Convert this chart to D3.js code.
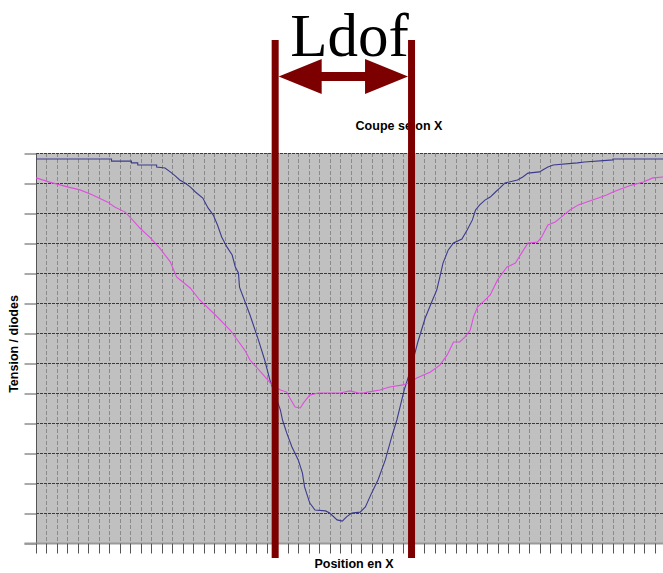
<!DOCTYPE html>
<html>
<head>
<meta charset="utf-8">
<style>
    body { margin: 0; background: #fff; }
    svg { display: block; }
    .lbl { font-family: Arial, 'Liberation Sans', sans-serif; font-weight: bold; font-size: 12.5px; fill: #000; }
    .ldof { font-family: 'Times New Roman', 'Liberation Serif', serif; font-size: 61px; fill: #000; }
</style>
</head>
<body>
<svg width="663" height="573"></svg>
<script src="https://d3js.org/d3.v7.min.js"></script>
<script>
// position en X (grid every 10 units)
let blueX = [0,72,72,91,91,97,97,115,115,123,
    128,133,137,142,147,152,159,164,169,173,
    177,182,187,190,193,194,204,212,218,223,
    229,233,235,239,244,250,254,256,261,266,
    276,280,287,292,296,301,309,314,320,326,
    333,339,344,347,351,354,357,364,371,378,
    382,385,388,393,398,406,411,416,419,423,
    428,433,438,442,447,459,464,469,480,483,
    488,493,516,523,550,550,598]
let blueY = [12.8,12.8,12.73,12.73,12.67,12.67,12.6,12.6,12.53,12.5,
    12.37,12.23,12.1,12.0,11.87,11.7,11.5,11.17,10.93,10.6,
    10.2,9.87,9.6,9.2,9.0,8.53,7.6,6.77,6.1,5.43,
    4.83,4.43,4.1,3.67,3.2,2.77,2.33,1.87,1.33,1.1,
    1.07,1.0,0.77,0.73,0.87,1.0,1.03,1.2,1.67,2.1,
    2.77,3.53,4.1,4.53,5.1,5.43,5.77,6.7,7.5,8.1,
    8.43,8.87,9.33,9.77,10.0,10.13,10.43,10.77,11.1,11.27,
    11.43,11.53,11.7,11.83,12.0,12.1,12.2,12.33,12.37,12.43,
    12.53,12.6,12.67,12.7,12.77,12.8,12.8]

let pinkX = [0,13,30,42,54,68,75,85,92,99,
    109,118,128,134,147,156,171,185,199,204,
    215,225,233,239,242,247,252,255,261,269,
    290,299,304,307,312,316,328,337,350,355,
    363,376,385,392,398,404,409,414,417,421,
    426,433,440,449,457,463,469,478,482,488,
    495,501,509,517,525,536,544,550,560,568,
    579,588,598]
let pinkY = [12.17,12.03,11.87,11.77,11.6,11.37,11.2,11.03,10.77,10.5,
    10.17,9.83,9.37,8.87,8.5,8.1,7.6,7.1,6.43,6.1,
    5.67,5.27,5.1,5.03,4.83,4.53,4.5,4.67,4.93,5.0,
    5.0,5.07,5.03,5.0,5.0,5.03,5.1,5.2,5.27,5.33,
    5.5,5.7,5.93,6.27,6.7,6.7,6.87,7.1,7.53,7.87,
    8.03,8.27,8.77,9.2,9.33,9.67,10.0,10.03,10.2,10.6,
    10.7,10.87,11.1,11.27,11.37,11.5,11.6,11.7,11.83,11.93,
    12.03,12.17,12.2]

let yTicks = d3.range(0, 14)       // 0..13
let xTicks = d3.range(0, 610, 10)  // grid every 10
let ldofBounds = [228, 358]        // depth of field limits (position en X)

let svg = d3.select("svg")
let margin = { top: 153, left: 36, bottom: 543 }

let x = d3.scaleLinear().domain([0, 600]).range([margin.left, 665.4])
let y = d3.scaleLinear().domain([0, 13]).range([margin.bottom, margin.top])

// plot background
svg.append("rect")
    .attr("x", x(0)).attr("y", y(13))
    .attr("width", x(600) - x(0)).attr("height", y(0) - y(13))
    .attr("fill", "#c0c0c0")

// vertical dashed grid
svg.append("g")
    .selectAll("line")
    .data(xTicks.filter(d => d > 0))
    .join("line")
    .attr("x1", d => Math.round(x(d)) + 0.5).attr("x2", d => Math.round(x(d)) + 0.5)
    .attr("y1", y(13)).attr("y2", y(0))
    .attr("stroke", "#8a8a8a")
    .attr("stroke-dasharray", "4,2")

// horizontal dashed grid
svg.append("g")
    .selectAll("line")
    .data(yTicks.filter(d => d > 0))
    .join("line")
    .attr("x1", x(0)).attr("x2", x(600))
    .attr("y1", d => Math.round(y(d)) + 0.5).attr("y2", d => Math.round(y(d)) + 0.5)
    .attr("stroke", "#3a3a3a")
    .attr("stroke-dasharray", "3,1")

// y axis (ticks only, no labels)
svg.append("g")
    .attr("transform", `translate(${x(0) + 0.5},0.5)`)
    .call(d3.axisLeft(y).tickValues(yTicks).tickSize(12).tickFormat(""))
    .call(g => g.selectAll("line").attr("stroke", "#555"))
    .call(g => g.select(".domain").attr("stroke", "#555").attr("d", `M0,${y(13)}V${y(0)}`))

// x axis (ticks only, no labels)
svg.append("g")
    .attr("transform", `translate(0.5,${y(0) + 0.5})`)
    .call(d3.axisBottom(x).tickValues(xTicks).tickSize(10).tickFormat(""))
    .call(g => g.selectAll(".tick").attr("transform", d => `translate(${Math.round(x(d))},0)`))
    .call(g => g.selectAll("line").attr("stroke", "#555"))
    .call(g => g.select(".domain").attr("stroke", "#999").attr("stroke-width", 2).attr("d", `M${x(0) - 12},0H${x(600)}`))

// curves
let line = d3.line()
    .x(d => x(d[0]))
    .y(d => y(d[1]))

svg.append("path")
    .datum(blueX.map((d, i) => [d, blueY[i]]))
    .attr("d", line)
    .attr("fill", "none")
    .attr("stroke", "#3b3b8e")
    .attr("stroke-width", 1.1)

svg.append("path")
    .datum(pinkX.map((d, i) => [d, pinkY[i]]))
    .attr("d", line)
    .attr("fill", "none")
    .attr("stroke", "#e04ee0")
    .attr("stroke-width", 1.1)

// texts
svg.append("text").attr("class", "lbl")
    .attr("x", 399).attr("y", 130)
    .attr("text-anchor", "middle")
    .text("Coupe selon X")

svg.append("text").attr("class", "lbl")
    .attr("x", 354).attr("y", 568)
    .attr("text-anchor", "middle")
    .text("Position en X")

svg.append("text").attr("class", "lbl")
    .attr("transform", "translate(18,344) rotate(-90)")
    .attr("text-anchor", "middle")
    .text("Tension / diodes")

// Ldof annotation
let barW = 7
let maroon = "#7d0000"
svg.append("g")
    .selectAll("rect")
    .data(ldofBounds)
    .join("rect")
    .attr("x", d => x(d) - barW / 2)
    .attr("y", 40)
    .attr("width", barW)
    .attr("height", 518)
    .attr("fill", maroon)

let ax0 = x(ldofBounds[0]) + barW / 2
let ax1 = x(ldofBounds[1]) - barW / 2
let ay = 76.5, headL = 43, headH = 17.5, shaft = 4.5
svg.append("path")
    .attr("d", `M${ax0},${ay} L${ax0 + headL},${ay - headH} L${ax0 + headL},${ay - shaft}
        L${ax1 - headL},${ay - shaft} L${ax1 - headL},${ay - headH} L${ax1},${ay}
        L${ax1 - headL},${ay + headH} L${ax1 - headL},${ay + shaft} L${ax0 + headL},${ay + shaft}
        L${ax0 + headL},${ay + headH} Z`)
    .attr("fill", maroon)

svg.append("text").attr("class", "ldof")
    .attr("x", 349.5).attr("y", 55.5)
    .attr("text-anchor", "middle")
    .text("Ldof")
</script>
</body>
</html>
